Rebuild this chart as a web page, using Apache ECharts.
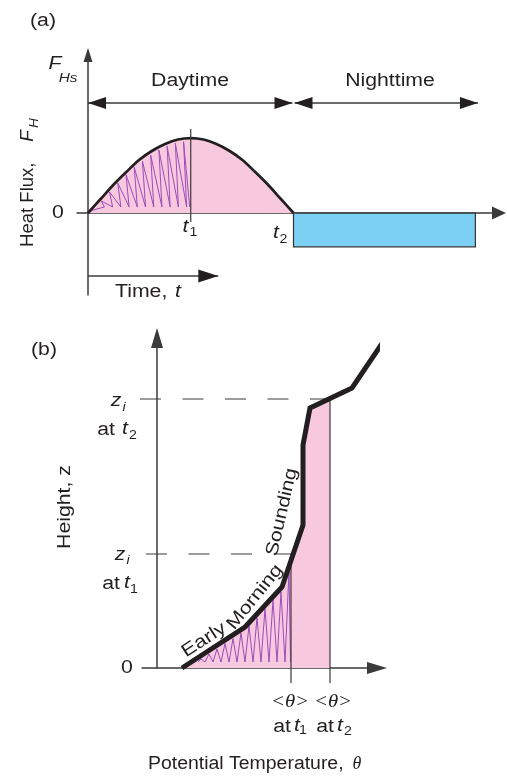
<!DOCTYPE html>
<html><head><meta charset="utf-8">
<script src="https://cdn.jsdelivr.net/npm/echarts@6.0.0/dist/echarts.min.js"></script>
<style>html,body{margin:0;padding:0;background:#fff}#c{width:507px;height:776px}</style>
</head><body><div id="c"></div>
<script>
// ---------- Panel (a): heat flux vs time (t1 = 1, t2 = 2, peak flux = 1) ----------
const curveTime = [0,0.125,0.25,0.375,0.5,0.625,0.75,0.875,1,1.125,1.25,1.375,1.5,1.625,1.75,1.875,2];
const curveFlux = [0,0.19,0.38,0.55,0.71,0.83,0.92,0.98,1,0.98,0.92,0.83,0.71,0.55,0.38,0.19,0];
const t1 = 1, t2 = 2;
const nightEnd = 3.77, nightFlux = -0.45;
const dayArrowFlux = 1.467, nightArrowEnd = 3.795;
const timeArrowFlux = -0.84, timeArrowEnd = 1.268;
// purple hatching (zig-zag vertices) under the curve up to t1
const hatchATime = [0.02,0.05,0.16,0.13,0.24,0.21,0.32,0.29,0.40,0.37,0.48,0.45,0.56,0.53,0.64,0.61,0.72,0.69,0.80,0.77,0.88,0.85,0.96,0.93,0.99];
const hatchAFlux = [0.02,0.04,0.08,0.16,0.08,0.28,0.08,0.40,0.08,0.51,0.08,0.61,0.08,0.69,0.08,0.77,0.08,0.84,0.08,0.89,0.08,0.93,0.08,0.95,0.08];

// ---------- Panel (b): potential temperature vs height ----------
const soundingTheta = [2.5,8.8,12.5,14.6,14.6,15.3,19.5,22.6];
const soundingZ     = [0,4.1,8.1,14.3,22.3,26,28,32.6];
const thetaT1 = 13.4, thetaT2 = 17.3;
const ziT1 = 11.4, ziT2 = 26.9;
const mixedTop = 26.95;
const hatchBTheta = [4.1,4.4,4.8,5.2,5.6,6.0,6.4,6.8,7.2,7.6,8.0,8.4,8.8,9.2,9.6,10.0,10.4,10.8,11.2,11.6,12.0,12.4,12.8,13.2,13.35];
const hatchBZ     = [0.6,0.9,0.6,1.4,0.6,1.9,0.6,2.45,0.6,2.95,0.6,3.5,0.6,4.2,0.6,5.0,0.6,5.9,0.6,6.8,0.6,7.6,0.6,9.7,0.6];

const INK = '#231f20', AX = '#3a3a3a', PINK = '#f8c8de', BLUE = '#7bd0f3', PURPLE = '#9b4dbb';
const zip = (a, b) => a.map((v, i) => [v, b[i]]);

function head(p, dir, len, w) {
  const bx = p[0] - dir[0] * len, by = p[1] - dir[1] * len;
  return {type: 'polygon', shape: {points: [p, [bx - dir[1] * w / 2, by + dir[0] * w / 2], [bx + dir[1] * w / 2, by - dir[0] * w / 2]]}, style: {fill: INK}};
}
function arrow(api, from, to, heads, len, w) {
  const a = api.coord(from), b = api.coord(to);
  const dx = b[0] - a[0], dy = b[1] - a[1], L = Math.hypot(dx, dy), u = [dx / L, dy / L];
  const out = [{type: 'line', shape: {x1: a[0], y1: a[1], x2: b[0], y2: b[1]}, style: {stroke: AX, lineWidth: 1.5}}];
  if (heads.end) out.push(head(b, u, len, w));
  if (heads.start) out.push(head(a, [-u[0], -u[1]], len, w));
  return out;
}
function seg(api, from, to, style) {
  const a = api.coord(from), b = api.coord(to);
  return {type: 'line', shape: {x1: a[0], y1: a[1], x2: b[0], y2: b[1]}, style: Object.assign({stroke: AX, lineWidth: 1.2}, style)};
}

const chart = echarts.init(document.getElementById('c'));
const hidden = {axisTick: {show: false}, axisLabel: {show: false}, splitLine: {show: false}};

const TX = (text, x, y, o = {}) => ({
  type: 'text', x, y, rotation: (o.rot || 0) * Math.PI / 180, scaleX: o.sx == null ? 1.18 : o.sx, z: 100,
  style: {text, font: (o.it ? 'italic ' : '') + (o.size || 18) + 'px ' + (o.serif ? '"Liberation Serif"' : '"Liberation Sans"'),
    fill: INK, align: o.align || 'center', verticalAlign: 'middle', textAlign: o.align || 'center', textVerticalAlign: 'middle'}
});

const texts = [
  TX('(a)', 43, 21),
  TX('F', 55, 64, {it: true}), TX('Hs', 68, 78, {it: true, size: 13}),
  TX('Daytime', 190, 81), TX('Nighttime', 390, 81),
  TX('0', 58, 213),
  TX('t', 185.5, 227, {it: true}), TX('1', 193.5, 233, {size: 12}),
  TX('t', 276, 233, {it: true}), TX('2', 283.5, 240, {size: 12}),
  TX('Time,', 115, 292, {align: 'left'}), TX('t', 178, 292, {it: true}),
  TX('Heat Flux,', 28, 247, {align: 'left', rot: 90, sx: 1.03}),
  TX('F', 28, 136, {it: true, rot: 90, sx: 1.05}), TX('H', 34, 123, {it: true, rot: 90, size: 13, sx: 1.05}),
  TX('(b)', 44, 350),
  TX('z', 116, 401, {it: true}), TX('i', 124, 408, {it: true, size: 12}),
  TX('at', 106, 430), TX('t', 125, 429, {it: true}), TX('2', 133, 436, {size: 12}),
  TX('z', 120, 555, {it: true}), TX('i', 128, 561, {it: true, size: 12}),
  TX('at', 111, 584), TX('t', 127, 583, {it: true}), TX('1', 134, 590, {size: 12}),
  TX('Height, z', 65, 507, {rot: 90}),
  TX('0', 127, 668),
  TX('<θ>', 290, 702, {serif: true, it: true, size: 18, sx: 1.15}), TX('<θ>', 333, 702, {serif: true, it: true, size: 18, sx: 1.15}),
  TX('at', 282, 727), TX('t', 297, 726, {it: true}), TX('1', 303, 731, {size: 12}),
  TX('at', 325, 727), TX('t', 340, 726, {it: true}), TX('2', 348, 732, {size: 12}),
  TX('Potential Temperature,', 148, 764, {align: 'left', sx: 1.08}), TX('θ', 357, 764, {serif: true, it: true, sx: 1}),
  TX('Early', 204, 640, {rot: 33, sx: 1.2}), TX('Morning', 255, 597, {rot: 51, sx: 1.2}), TX('Sounding', 282, 512, {rot: 77})
];

chart.setOption({
  animation: false,
  grid: [
    {left: 77, right: 8, top: 55, bottom: 481},
    {left: 142, right: 130, top: 338, bottom: 108}
  ],
  xAxis: [
    Object.assign({type: 'value', gridIndex: 0, min: -0.107, max: 4.0, axisLine: {onZero: true, symbol: ['none', 'triangle'], symbolSize: [13, 14], lineStyle: {color: AX, width: 1.5}}}, hidden),
    Object.assign({type: 'value', gridIndex: 1, min: -1.5, max: 22, axisLine: {onZero: true, symbol: ['none', 'triangle'], symbolSize: [12, 20], lineStyle: {color: AX, width: 1.5}}}, hidden)
  ],
  yAxis: [
    Object.assign({type: 'value', gridIndex: 0, min: -1.093, max: 2.107, axisLine: {onZero: true, symbol: ['none', 'triangle'], symbolSize: [9, 14], lineStyle: {color: AX, width: 1.5}}}, hidden),
    Object.assign({type: 'value', gridIndex: 1, min: 0, max: 33, axisLine: {onZero: true, symbol: ['none', 'triangle'], symbolSize: [12, 20], lineStyle: {color: AX, width: 1.5}}}, hidden)
  ],
  graphic: texts,
  series: [
    {type: 'line', xAxisIndex: 0, yAxisIndex: 0, data: zip(curveTime, curveFlux), smooth: 0.3, showSymbol: false, silent: true, z: 1,
      lineStyle: {width: 0}, areaStyle: {color: PINK, opacity: 1}},
    {type: 'custom', xAxisIndex: 0, yAxisIndex: 0, data: [[t2, nightFlux]], silent: true, z: 1, clip: false,
      renderItem: (p, api) => ({type: 'polygon', shape: {points: [[t2, 0], [nightEnd, 0], [nightEnd, nightFlux], [t2, nightFlux]].map(q => api.coord(q))},
        style: {fill: BLUE, stroke: '#333', lineWidth: 1.2}})},
    {type: 'line', xAxisIndex: 0, yAxisIndex: 0, data: zip(hatchATime, hatchAFlux), showSymbol: false, silent: true, z: 3,
      lineStyle: {width: 1, color: PURPLE}},
    {type: 'line', xAxisIndex: 0, yAxisIndex: 0, data: zip(curveTime, curveFlux), smooth: 0.3, showSymbol: false, silent: true, z: 4,
      lineStyle: {width: 2.7, color: INK}},
    {type: 'custom', xAxisIndex: 0, yAxisIndex: 0, data: [[0, 0]], silent: true, z: 5, clip: false,
      renderItem: (p, api) => ({type: 'group', children: [].concat(
        [seg(api, [t1, 1.12], [t1, -0.12])],
        arrow(api, [0, dayArrowFlux], [1.99, dayArrowFlux], {start: true, end: true}, 18, 12),
        arrow(api, [2.01, dayArrowFlux], [nightArrowEnd, dayArrowFlux], {start: true, end: true}, 18, 12),
        arrow(api, [0, timeArrowFlux], [timeArrowEnd, timeArrowFlux], {end: true}, 20, 13)
      )})},
    {type: 'custom', xAxisIndex: 1, yAxisIndex: 1, data: [[0, 0]], silent: true, z: 1, clip: false,
      renderItem: (p, api) => {
        const pts = [];
        for (let i = 0; i < soundingTheta.length; i++) if (soundingZ[i] < mixedTop) pts.push([soundingTheta[i], soundingZ[i]]);
        pts.push([thetaT2, mixedTop], [thetaT2, 0]);
        return {type: 'polygon', shape: {points: pts.map(q => api.coord(q))}, style: {fill: PINK}};
      }},
    {type: 'line', xAxisIndex: 1, yAxisIndex: 1, data: zip(hatchBTheta, hatchBZ), showSymbol: false, silent: true, z: 3,
      lineStyle: {width: 1, color: PURPLE}},
    {type: 'custom', xAxisIndex: 1, yAxisIndex: 1, data: [[0, 0]], silent: true, z: 4, clip: false,
      renderItem: (p, api) => ({type: 'group', children: [
        seg(api, [thetaT1, -1.5], [thetaT1, 11.0]),
        seg(api, [thetaT2, -1.5], [thetaT2, ziT2]),
        seg(api, [-1.7, ziT2], [thetaT2, ziT2], {lineDash: [21, 21.5]}),
        seg(api, [-1.1, ziT1], [thetaT1, ziT1], {lineDash: [21, 21.5]})
      ]})},
    {type: 'line', xAxisIndex: 1, yAxisIndex: 1, data: zip(soundingTheta, soundingZ), showSymbol: false, silent: true, z: 6,
      lineStyle: {width: 5, color: INK, join: 'miter'}}
  ]
});
</script></body></html>
